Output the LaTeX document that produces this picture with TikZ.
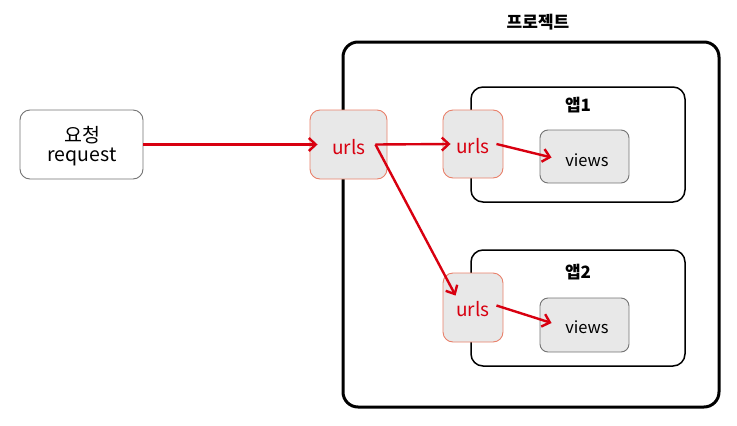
\documentclass[tikz,border=0pt]{standalone}
\usepackage{fontspec}
\setmainfont{Noto Sans CJK KR}
\usetikzlibrary{arrows.meta,calc}
\definecolor{arrred}{HTML}{D80010}
\definecolor{boxgray}{HTML}{E8E8E8}
\definecolor{salmon}{HTML}{E8806A}
\begin{document}
\begin{tikzpicture}[x=1pt,y=-1pt,
  reqbox/.style={draw=black!55,line width=0.9pt,rounded corners=10pt,fill=white,
    minimum width=123pt,minimum height=69pt,inner sep=0pt},
  reqtxt/.style={align=center,inner sep=0pt,font=\fontsize{19.5}{23}\selectfont},
  urlbox/.style={draw=salmon,line width=0.9pt,rounded corners=10pt,fill=boxgray,inner sep=0pt},
  urltxt/.style={text=arrred,font=\fontsize{19}{22}\selectfont,inner sep=0pt},
  viewbox/.style={draw=black!55,line width=0.9pt,rounded corners=8pt,fill=boxgray,
    minimum width=89pt,minimum height=53pt,inner sep=0pt},
  viewtxt/.style={font=\fontsize{16.5}{19}\selectfont,inner sep=0pt},
  projbox/.style={draw=black,line width=3pt,rounded corners=15pt,inner sep=0pt},
  appbox/.style={draw=black,line width=1.5pt,rounded corners=12pt,inner sep=0pt},
  lbl/.style={font=\bfseries\fontsize{17}{19}\selectfont,inner sep=0pt},
  redarrow/.style={draw=arrred,line width=2.4pt,-{Straight Barb[length=7pt,width=13pt,line width=2.4pt]}}
]
\useasboundingbox (0,0) rectangle (737,426);
% project
\node[projbox,minimum width=376pt,minimum height=365pt] (proj) at (531,224.5) {};
\node[lbl] (projl) at (538,22) {프로젝트};
% apps
\node[appbox,minimum width=214pt,minimum height=115pt] (app1) at (578,144.5) {};
\node[lbl] (app1l) at (578,105) {앱1};
\node[appbox,minimum width=214pt,minimum height=116pt] (app2) at (578,308) {};
\node[lbl] (app2l) at (578,272) {앱2};
% request
\node[reqbox] (req) at (81.5,144.5) {};
\node[reqtxt] (reqt) at (82,146.5) {요청\\[-4pt]request};
% urls
\node[urlbox,minimum width=77pt,minimum height=69pt] (u0) at (348.5,144.5) {};
\node[urltxt] (u0t) at (349,147) {urls};
\node[urlbox,minimum width=60pt,minimum height=68pt] (u1) at (473,144) {};
\node[urltxt] (u1t) at (473,146) {urls};
\node[urlbox,minimum width=60pt,minimum height=69pt] (u2) at (473,307.5) {};
\node[urltxt] (u2t) at (473,309) {urls};
% views
\node[viewbox] (v1) at (584.5,156.5) {};
\node[viewtxt] (v1t) at (587,160) {views};
\node[viewbox,minimum height=54pt] (v2) at (584.5,325) {};
\node[viewtxt] (v2t) at (587,327) {views};
% arrows
\coordinate (a0s) at ([xshift=-12pt]u0.east);
\draw[redarrow] (req.east) -- ([xshift=8pt]u0.west);
\draw[redarrow] (a0s) -- ([xshift=8pt]u1.west);
\draw[redarrow] (a0s) -- ($(u2.north west)+(13,23)$);
\draw[redarrow] ([xshift=-7pt]u1.east) -- ($(v1.west)+(12,1)$);
\draw[redarrow] ([xshift=-7pt,yshift=2pt]u2.east) -- ($(v2.west)+(12,-2)$);
\end{tikzpicture}
\end{document}
